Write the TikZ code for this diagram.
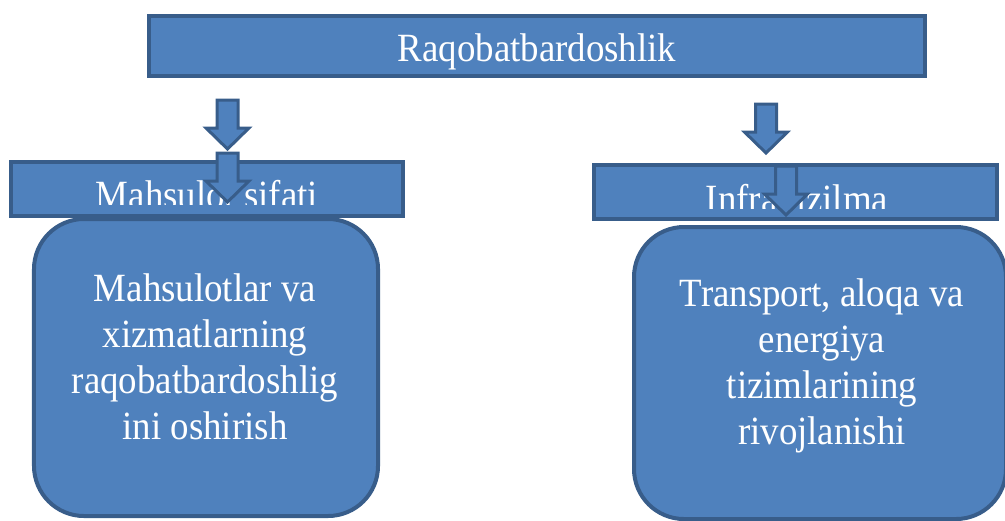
\documentclass[tikz,border=0pt]{standalone}
\usepackage{fontspec}
\setmainfont[FakeStretch=0.92]{Liberation Serif}
\usepackage{tikz}
\usetikzlibrary{positioning}
\definecolor{boxfill}{HTML}{4F81BD}
\definecolor{boxline}{HTML}{385D8A}
\tikzset{
  plainbox/.style={draw=boxline,fill=boxfill,line width=0.8mm,inner sep=0pt,text=white},
  roundbox/.style={plainbox,rounded corners=1cm},
  labeltext/.style={text=white,font=\fontsize{22.8}{26.2}\selectfont},
  bodytext/.style={labeltext,align=center,inner sep=0pt},
  dnarrow/.pic={
    \draw[draw=boxline,fill=boxfill,line width=0.6mm,line join=miter]
      (-10.5,0) -- (10.5,0) -- (10.5,28) -- (21.5,28) -- (0,49)
      -- (-21.5,28) -- (-10.5,28) -- cycle;
  }
}

\begin{document}
\begin{tikzpicture}[x=0.2mm,y=-0.2mm]
    \useasboundingbox (0,0) rectangle (1005,520);
    \clip (0,0) rectangle (1005,520);
    % top
    \node[plainbox,labeltext,minimum width=15.52cm,minimum height=1.2cm,
      text height=23pt,text depth=4.8pt] (top) at (537,46) {Raqobatbardoshlik};
    \pic at (227.5,100) {dnarrow};
    \pic at (766,104) {dnarrow};
    % second row
    \node[plainbox,minimum width=7.84cm,minimum height=1.08cm] (quality) at (207,189) {};
    \node[plainbox,minimum width=8.06cm,minimum height=1.08cm] (infra) at (795.5,192) {};
    \begin{scope}
      \clip (11,162) rectangle (403,204);
      \node[labeltext,anchor=base,inner sep=0pt] (qualitylabel) at (207,208) {Mahsulot sifati};
    \end{scope}
    \begin{scope}
      \clip (592,165) rectangle (999,208);
      \node[labeltext,anchor=base,inner sep=0pt] (infralabel) at (797,212) {Infratuzilma};
    \end{scope}
    \pic at (227.5,153) {dnarrow};
    \pic at (786,166) {dnarrow};
    % bottom
    \node[roundbox,minimum width=6.88cm,minimum height=5.94cm] (qualitybox) at (206,367.5) {};
    \node[roundbox,minimum width=7.44cm,minimum height=5.84cm] (infrabox) at (820,373) {};
    \node[bodytext] (qualitytext) at (205,357) {Mahsulotlar va\\xizmatlarning\\raqobatbardoshlig\\ini oshirish};
    \node[bodytext] (infratext) at (822,366) {Transport, aloqa va\\energiya\\tizimlarining\\rivojlanishi};
\end{tikzpicture}
\end{document}
